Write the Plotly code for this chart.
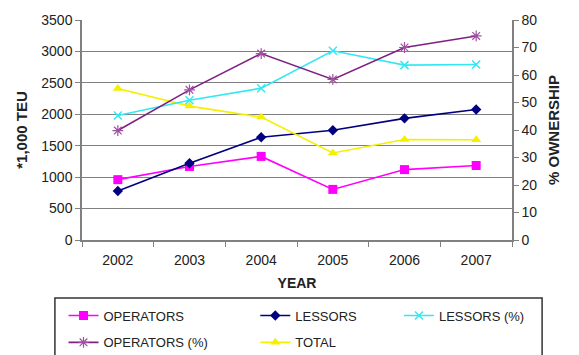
import plotly.graph_objects as go

years = ["2002", "2003", "2004", "2005", "2006", "2007"]
operators = [960, 1170, 1330, 805, 1120, 1185]
lessors = [780, 1220, 1635, 1745, 1935, 2075]
total = [2410, 2130, 1955, 1385, 1600, 1595]
lessors_pct = [45.3, 50.8, 55.2, 68.8, 63.6, 63.8]
operators_pct = [39.8, 54.6, 67.8, 58.4, 70.0, 74.2]

FONT = "Liberation Sans, Arial, sans-serif"

fig = go.Figure()
fig.add_trace(go.Scatter(x=years, y=operators, name="OPERATORS", mode="lines+markers",
                         legend="legend", legendgroup="a",
                         line=dict(color="#FF00FF", width=1.6),
                         marker=dict(symbol="square", size=9, color="#FF00FF")))
fig.add_trace(go.Scatter(x=years, y=lessors, name="LESSORS", mode="lines+markers",
                         legend="legend2", legendgroup="b",
                         line=dict(color="#000080", width=1.6),
                         marker=dict(symbol="diamond", size=8, color="#000080")))
fig.add_trace(go.Scatter(x=years, y=lessors_pct, name="LESSORS (%)", mode="lines+markers", yaxis="y2",
                         legend="legend3", legendgroup="c",
                         line=dict(color="#33E8F5", width=1.6),
                         marker=dict(symbol="x-thin-open", size=8, color="#33E8F5",
                                     line=dict(color="#33E8F5", width=1.5))))
fig.add_trace(go.Scatter(x=years, y=operators_pct, name="OPERATORS (%)", mode="lines+markers", yaxis="y2",
                         legend="legend", legendgroup="d",
                         line=dict(color="#802080", width=1.6),
                         marker=dict(symbol="asterisk-open", size=9, color="#A050A0",
                                     line=dict(color="#A050A0", width=1.2))))
fig.add_trace(go.Scatter(x=years, y=total, name="TOTAL", mode="lines+markers",
                         legend="legend2", legendgroup="e",
                         line=dict(color="#F5F000", width=1.6),
                         marker=dict(symbol="triangle-up", size=9, color="#F5F000")))

leg_common = dict(orientation="v", xanchor="left", y=-0.275, yanchor="top",
                  bgcolor="rgba(0,0,0,0)", borderwidth=0, itemwidth=30,
                  font=dict(size=13, color="#222222"), traceorder="grouped",
                  tracegroupgap=7)

fig.update_layout(
    width=579, height=355,
    margin=dict(l=82, r=67, t=20, b=115, autoexpand=False),
    paper_bgcolor="white", plot_bgcolor="white",
    font=dict(family=FONT, size=14, color="#222222"),
    showlegend=True,
    legend=dict(x=-0.043, **leg_common),
    legend2=dict(x=0.403, **leg_common),
    legend3=dict(x=0.737, **leg_common),
    shapes=[dict(type="rect", xref="paper", yref="paper",
                 x0=-0.063, x1=1.07, y0=-0.264, y1=-0.62,
                 line=dict(color="#333333", width=1.5), fillcolor="rgba(0,0,0,0)",
                 layer="below")],
    xaxis=dict(type="category", range=[-0.5, 5.5], tickson="boundaries",
               ticks="outside", ticklen=5, tickcolor="#808080", ticklabelstandoff=6,
               showline=True, linecolor="#808080", linewidth=1.5, showgrid=False,
               title=dict(text="<b>YEAR</b>", standoff=12, font=dict(size=14))),
    yaxis=dict(range=[0, 3500], dtick=500, ticks="outside", ticklen=5, tickcolor="#808080",
               showline=True, linecolor="#808080", linewidth=1.5,
               showgrid=True, gridcolor="#808080", gridwidth=1, zeroline=False,
               title=dict(text="<b>*1,000 TEU</b>", standoff=10, font=dict(size=15))),
    yaxis2=dict(range=[0, 80], dtick=10, overlaying="y", side="right",
                ticks="outside", ticklen=5, tickcolor="#808080",
                showline=True, linecolor="#808080", linewidth=1.5,
                showgrid=False, zeroline=False,
                title=dict(text="<b>% OWNERSHIP</b>", standoff=12, font=dict(size=15))),
)

fig.write_html("out.html")
